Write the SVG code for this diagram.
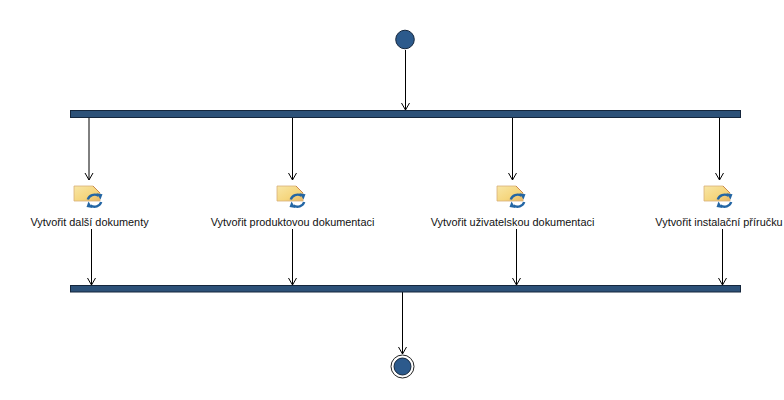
<svg xmlns="http://www.w3.org/2000/svg" width="784" height="400" viewBox="0 0 784 400">
<style>
text{font-family:"Liberation Sans",Arial,sans-serif;font-size:10.9px;fill:#111;text-anchor:middle}
.bar{fill:#2c5178;stroke:#14263c;stroke-width:1}
.loop{fill:none;stroke:#2466a4;stroke-width:2.4}
.tip{fill:#2466a4}
</style>
<defs>
<linearGradient id="f" x1="0" y1="0" x2="1" y2="1"><stop offset="0" stop-color="#f8e6a6"/><stop offset=".6" stop-color="#f5d67e"/><stop offset="1" stop-color="#e8b868"/></linearGradient>
<g id="act">
<path d="M0 0H19L26 7V15H0Z" fill="url(#f)" stroke="#d8b078" stroke-width=".8"/>
<path d="M19 0L26 7" stroke="#c88850" stroke-width="1" fill="none"/>
<path class="loop" d="M13.800 13.500A7 6.500 0 0 1 24.500 9.800"/>
<path class="tip" d="M22.500 7.300L28.500 8.300L26.500 13.500Z"/>
<path class="loop" d="M27.200 16A7 6.500 0 0 1 16.500 19.500"/>
<path class="tip" d="M18.500 22L12.500 21L14.500 15.500Z"/>
</g>
<g id="ah"><path d="M-4 -7L0 0L4 -7" fill="none" stroke="#000" stroke-width="1"/></g>
</defs>
<g id="connectors">
<path d="M405.500 50V110M89 118V180M292.500 118V180M512.500 118V180M719.500 118V180M91.500 229V285M292.500 229V285M516.500 229V285M722.500 229V285M402.500 292V354" stroke="#000" stroke-width="1" fill="none"/>
<use href="#ah" x="405.500" y="110"/><use href="#ah" x="89" y="180"/><use href="#ah" x="292.500" y="180"/><use href="#ah" x="512.500" y="180"/><use href="#ah" x="719.500" y="180"/><use href="#ah" x="91.500" y="285"/><use href="#ah" x="292.500" y="285"/><use href="#ah" x="516.500" y="285"/><use href="#ah" x="722.500" y="285"/><use href="#ah" x="402.500" y="354"/>
</g>
<g id="start"><circle cx="405" cy="39.500" r="9.300" fill="#2c5a8c" stroke="#14263c"/></g>
<g id="fork"><rect class="bar" x="70.500" y="110.500" width="670" height="7"/></g>
<g id="join"><rect class="bar" x="70.500" y="285.500" width="670" height="6.500"/></g>
<g id="end"><circle cx="402.500" cy="366.500" r="11.500" fill="#fff" stroke="#222" stroke-width="1"/><circle cx="402.500" cy="366.500" r="8.500" fill="#2c5a8c" stroke="#14263c"/></g>
<g id="n1"><use href="#act" x="74" y="186"/><text x="89.500" y="226">Vytvořit další dokumenty</text></g>
<g id="n2"><use href="#act" x="277" y="186"/><text x="292.500" y="226">Vytvořit produktovou dokumentaci</text></g>
<g id="n3"><use href="#act" x="497" y="186"/><text x="512.500" y="226">Vytvořit uživatelskou dokumentaci</text></g>
<g id="n4"><use href="#act" x="704" y="186"/><text x="719" y="226">Vytvořit instalační příručku</text></g>
</svg>
